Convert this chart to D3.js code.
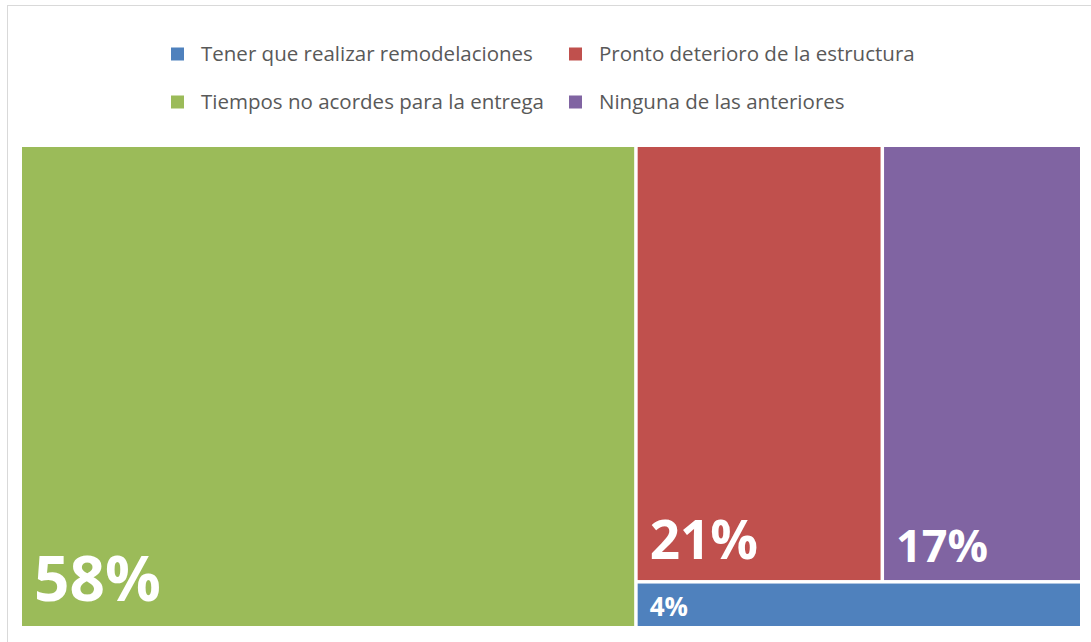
<!DOCTYPE html>
<html>
<head>
<meta charset="utf-8">
<script src="https://cdn.jsdelivr.net/npm/d3@7"></script>
<style>
  body { margin: 0; background: #fff; }
  svg { display: block; font-family: "Open Sans", sans-serif; }
</style>
</head>
<body>
<div id="chart"></div>
<script>
// data
const categories = [
  "Tener que realizar remodelaciones",
  "Pronto deterioro de la estructura",
  "Tiempos no acordes para la entrega",
  "Ninguna de las anteriores"
];
const values = [4, 21, 58, 17];
const colors = ["#4F81BD", "#C0504D", "#9BBB59", "#8064A2"];
// label font size per tile (px)
const labelSizes = [26, 53, 62, 45];

const width = 1091,
  height = 642,
  area = { left: 22, top: 147, right: 1080, bottom: 626 };

const svg = d3.select("#chart")
  .append("svg")
  .attr("width", width)
  .attr("height", height);

// chart frame
svg.append("rect")
  .attr("x", 7.5)
  .attr("y", 5.5)
  .attr("width", width + 10)
  .attr("height", height + 10)
  .attr("fill", "none")
  .attr("stroke", "#d9d9d9");

// legend (2 x 2)
const legendCols = [171, 569],
  legendRows = [54, 102];

const legend = svg.append("g")
  .selectAll("g")
  .data(categories)
  .join("g")
  .attr("transform", (d, i) => `translate(${legendCols[i % 2]},${legendRows[Math.floor(i / 2)]})`);

legend.append("rect")
  .attr("x", 0)
  .attr("y", -6.5)
  .attr("width", 13)
  .attr("height", 13)
  .attr("fill", (d, i) => colors[i]);

legend.append("text")
  .attr("x", 30)
  .attr("y", 0)
  .attr("dy", "0.35em")
  .attr("font-size", 20.5)
  .attr("fill", "#595959")
  .text(d => d);

// treemap
const root = d3.hierarchy({
    children: categories.map((name, i) => ({ name, value: values[i], color: colors[i], size: labelSizes[i] }))
  })
  .sum(d => d.value || 0)
  .sort((a, b) => b.value - a.value);

d3.treemap()
  .tile(d3.treemapSquarify)
  .size([area.right - area.left, area.bottom - area.top])
  .paddingInner(3.5)(root);

const total = d3.sum(values);

const tile = svg.append("g")
  .attr("transform", `translate(${area.left},${area.top})`)
  .selectAll("g")
  .data(root.leaves())
  .join("g")
  .attr("transform", d => `translate(${d.x0},${d.y0})`);

tile.append("rect")
  .attr("width", d => d.x1 - d.x0)
  .attr("height", d => d.y1 - d.y0)
  .attr("fill", d => d.data.color);

tile.append("text")
  .attr("x", 12)
  .attr("y", d => d.y1 - d.y0 - d.data.size * 0.4)
  .attr("font-size", d => d.data.size)
  .attr("font-weight", "bold")
  .attr("fill", "#fff")
  .text(d => Math.round(d.data.value / total * 100) + "%");
</script>
</body>
</html>
